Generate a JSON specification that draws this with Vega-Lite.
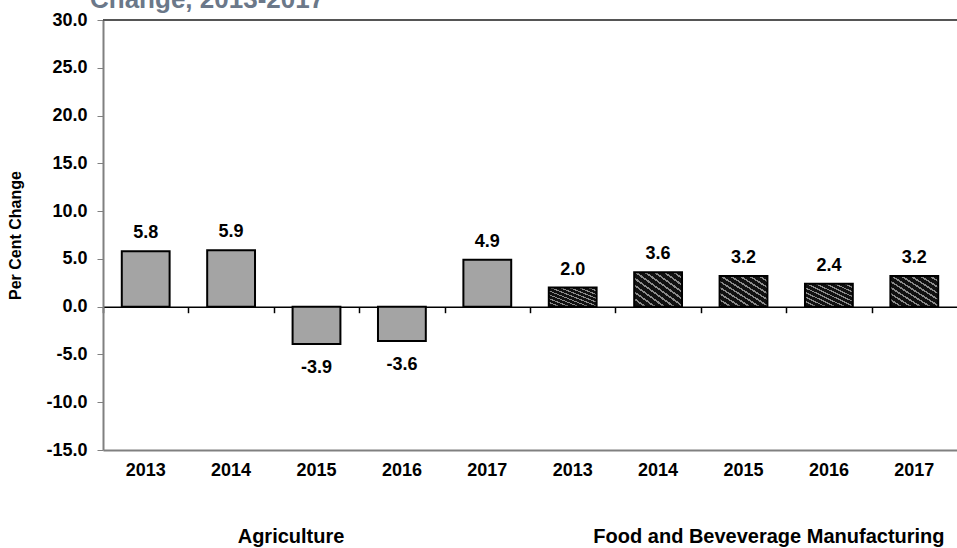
{
  "$schema": "https://vega.github.io/schema/vega-lite/v6.json",
  "autosize": "none",
  "padding": {"left": 103, "top": 20, "right": 0, "bottom": 98},
  "width": 854,
  "height": 430,
  "background": "white",
  "data": {"values": [
    {"group": "Agriculture", "year": "2013", "key": "A2013", "value": 5.8},
    {"group": "Agriculture", "year": "2014", "key": "A2014", "value": 5.9},
    {"group": "Agriculture", "year": "2015", "key": "A2015", "value": -3.9},
    {"group": "Agriculture", "year": "2016", "key": "A2016", "value": -3.6},
    {"group": "Agriculture", "year": "2017", "key": "A2017", "value": 4.9},
    {"group": "Food and Beveverage Manufacturing", "year": "2013", "key": "F2013", "value": 2.0},
    {"group": "Food and Beveverage Manufacturing", "year": "2014", "key": "F2014", "value": 3.6},
    {"group": "Food and Beveverage Manufacturing", "year": "2015", "key": "F2015", "value": 3.2},
    {"group": "Food and Beveverage Manufacturing", "year": "2016", "key": "F2016", "value": 2.4},
    {"group": "Food and Beveverage Manufacturing", "year": "2017", "key": "F2017", "value": 3.2}
  ]},
  "layer": [
    {
      "transform": [{"filter": "datum.group === 'Agriculture'"}],
      "mark": {"type": "bar", "fill": "#a4a4a4", "stroke": "black", "strokeWidth": 2},
      "encoding": {
        "x": {"field": "key", "type": "nominal", "scale": {"type": "band", "domain": ["A2013","A2014","A2015","A2016","A2017","F2013","F2014","F2015","F2016","F2017"], "paddingInner": 0.44, "paddingOuter": 0.22},
          "axis": {"orient": "bottom", "title": null, "ticks": false, "labelExpr": "substring(datum.value, 1)", "domainColor": "#808080", "domainWidth": 2, "labelFont": "Liberation Sans", "labelFontSize": 18, "labelFontWeight": "bold", "labelColor": "black", "labelPadding": 11, "labelAngle": 0}},
        "y": {"field": "value", "type": "quantitative", "scale": {"domain": [-15, 30], "nice": false},
          "axis": {"orient": "left", "title": "Per Cent Change", "titleFont": "Liberation Sans", "titleFontSize": 16, "titleFontWeight": "bold", "titleColor": "black", "titlePadding": 22, "labelFont": "Liberation Sans", "labelFontSize": 18, "labelFontWeight": "bold", "labelColor": "black", "labelPadding": 10, "format": ".1f", "values": [-15, -10, -5, 0, 5, 10, 15, 20, 25, 30], "grid": false, "domainColor": "#808080", "domainWidth": 2, "tickColor": "#808080", "tickSize": 6}},
        "y2": {"datum": 0}
      }
    },
    {
      "transform": [{"filter": "datum.group !== 'Agriculture'"}],
      "mark": {"type": "bar", "stroke": "black", "strokeWidth": 2,
        "fill": {"gradient": "linear", "x1": 1, "y1": 0, "x2": 0, "y2": 1, "stops": [
          {"offset": 0, "color": "#111"}, {"offset": 0.07, "color": "#111"}, {"offset": 0.07, "color": "#8a8a8a"}, {"offset": 0.1, "color": "#8a8a8a"},
          {"offset": 0.1, "color": "#111"}, {"offset": 0.17, "color": "#111"}, {"offset": 0.17, "color": "#8a8a8a"}, {"offset": 0.2, "color": "#8a8a8a"},
          {"offset": 0.2, "color": "#111"}, {"offset": 0.27, "color": "#111"}, {"offset": 0.27, "color": "#8a8a8a"}, {"offset": 0.3, "color": "#8a8a8a"},
          {"offset": 0.3, "color": "#111"}, {"offset": 0.37, "color": "#111"}, {"offset": 0.37, "color": "#8a8a8a"}, {"offset": 0.4, "color": "#8a8a8a"},
          {"offset": 0.4, "color": "#111"}, {"offset": 0.47, "color": "#111"}, {"offset": 0.47, "color": "#8a8a8a"}, {"offset": 0.5, "color": "#8a8a8a"},
          {"offset": 0.5, "color": "#111"}, {"offset": 0.57, "color": "#111"}, {"offset": 0.57, "color": "#8a8a8a"}, {"offset": 0.6, "color": "#8a8a8a"},
          {"offset": 0.6, "color": "#111"}, {"offset": 0.67, "color": "#111"}, {"offset": 0.67, "color": "#8a8a8a"}, {"offset": 0.7, "color": "#8a8a8a"},
          {"offset": 0.7, "color": "#111"}, {"offset": 0.77, "color": "#111"}, {"offset": 0.77, "color": "#8a8a8a"}, {"offset": 0.8, "color": "#8a8a8a"},
          {"offset": 0.8, "color": "#111"}, {"offset": 0.87, "color": "#111"}, {"offset": 0.87, "color": "#8a8a8a"}, {"offset": 0.9, "color": "#8a8a8a"},
          {"offset": 0.9, "color": "#111"}, {"offset": 0.97, "color": "#111"}, {"offset": 0.97, "color": "#8a8a8a"}, {"offset": 1, "color": "#8a8a8a"}
        ]}},
      "encoding": {
        "x": {"field": "key", "type": "nominal", "scale": {"type": "band", "domain": ["A2013","A2014","A2015","A2016","A2017","F2013","F2014","F2015","F2016","F2017"], "paddingInner": 0.44, "paddingOuter": 0.22}, "axis": null},
        "y": {"field": "value", "type": "quantitative"},
        "y2": {"datum": 0}
      }
    },
    {
      "transform": [{"filter": "datum.value >= 0"}],
      "mark": {"type": "text", "baseline": "bottom", "dy": -9, "font": "Liberation Sans", "fontSize": 18, "fontWeight": "bold", "color": "black"},
      "encoding": {
        "x": {"field": "key", "type": "nominal", "scale": {"type": "band", "domain": ["A2013","A2014","A2015","A2016","A2017","F2013","F2014","F2015","F2016","F2017"], "paddingInner": 0.44, "paddingOuter": 0.22},
          "axis": {"orient": "bottom", "title": null, "labels": false, "domainColor": "black", "domainWidth": 1.5, "tickColor": "black", "tickWidth": 1.5, "tickSize": 6, "tickOffset": -42.7, "offset": -143.3}},
        "y": {"field": "value", "type": "quantitative"},
        "text": {"field": "value", "type": "quantitative", "format": ".1f"}
      }
    },
    {
      "transform": [{"filter": "datum.value < 0"}],
      "mark": {"type": "text", "baseline": "top", "dy": 15, "font": "Liberation Sans", "fontSize": 18, "fontWeight": "bold", "color": "black"},
      "encoding": {
        "x": {"field": "key", "type": "nominal", "scale": {"type": "band", "domain": ["A2013","A2014","A2015","A2016","A2017","F2013","F2014","F2015","F2016","F2017"], "paddingInner": 0.44, "paddingOuter": 0.22}, "axis": null},
        "y": {"field": "value", "type": "quantitative"},
        "text": {"field": "value", "type": "quantitative", "format": ".1f"}
      }
    },
    {
      "mark": {"type": "rule", "color": "#555555", "strokeWidth": 2},
      "encoding": {"y": {"datum": 30, "type": "quantitative"}}
    },
    {
      "transform": [{"aggregate": [], "groupby": ["group"]}],
      "mark": {"type": "text", "opacity": 0},
      "encoding": {
        "x": {"field": "group", "type": "nominal", "scale": {"type": "band", "domain": ["Agriculture", "Food and Beveverage Manufacturing"], "paddingInner": 0.213, "paddingOuter": 0},
          "axis": {"orient": "bottom", "title": null, "ticks": false, "domain": false, "labelAngle": 0, "labelFont": "Liberation Sans", "labelFontSize": 20, "labelFontWeight": "bold", "labelColor": "black", "labelPadding": 76, "labelLimit": 0}},
        "y": {"datum": 30, "type": "quantitative"},
        "text": {"field": "group"}
      }
    },
    {
      "transform": [{"filter": "datum.group === 'Agriculture'"}, {"aggregate": [], "groupby": ["group"]}],
      "mark": {"type": "text", "align": "left", "baseline": "alphabetic", "dx": -13, "font": "Liberation Sans", "fontSize": 26, "fontWeight": "bold", "color": "#6b7889"},
      "encoding": {
        "x": {"field": "group", "type": "nominal", "bandPosition": 0, "scale": {"type": "band", "domain": ["Agriculture", "Food and Beveverage Manufacturing"], "paddingInner": 0.213, "paddingOuter": 0}, "axis": null},
        "y": {"datum": 31.3, "type": "quantitative"},
        "text": {"value": "Change, 2013-2017"}
      }
    }
  ],
  "resolve": {"scale": {"x": "independent"}, "axis": {"x": "independent"}},
  "config": {"view": {"stroke": null}, "locale": {"number": {"decimal": ".", "thousands": ",", "grouping": [3], "currency": ["$", ""], "minus": "-"}}}
}
